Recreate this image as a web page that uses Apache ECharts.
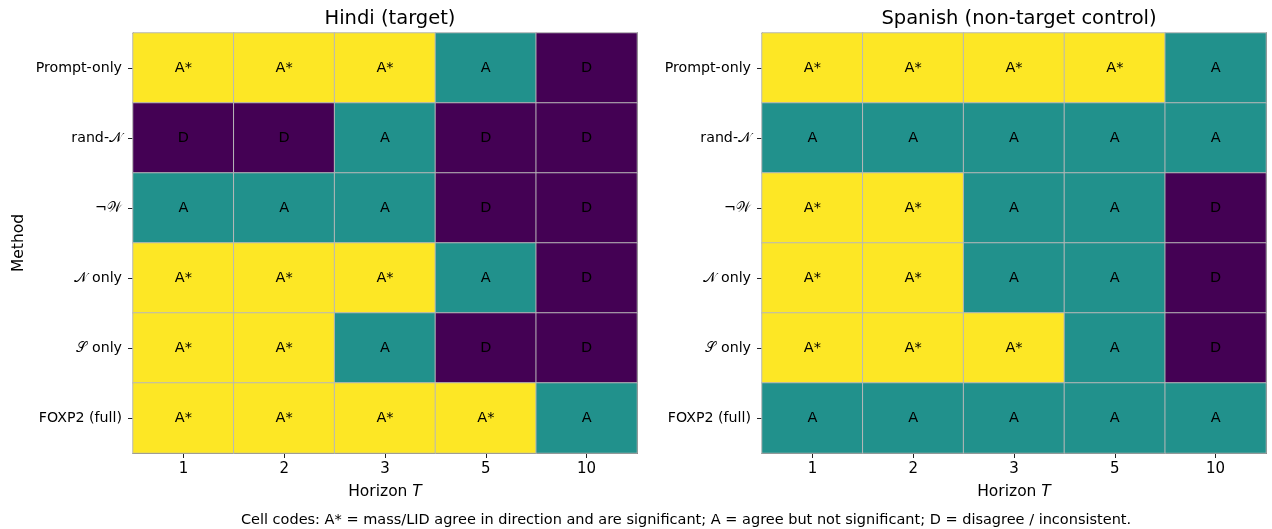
<!DOCTYPE html>
<html><head><meta charset="utf-8">
<script src="https://cdn.jsdelivr.net/npm/echarts@6/dist/echarts.min.js"></script>
<style>html,body{margin:0;padding:0;background:#fff}#c{width:1272px;height:529px}</style>
</head><body><div id="c"></div>
<script>
const horizons = ['1', '2', '3', '5', '10'];
const methods = ['Prompt-only', 'rand-𝒩', '¬𝒲', '𝒩 only', '𝒮 only', 'FOXP2 (full)'];
const codeValue = { 'D': 0, 'A': 1, 'A*': 2 };
const hindiCodes = [
  ['A*', 'A*', 'A*', 'A', 'D'],
  ['D', 'D', 'A', 'D', 'D'],
  ['A', 'A', 'A', 'D', 'D'],
  ['A*', 'A*', 'A*', 'A', 'D'],
  ['A*', 'A*', 'A', 'D', 'D'],
  ['A*', 'A*', 'A*', 'A*', 'A']
];
const spanishCodes = [
  ['A*', 'A*', 'A*', 'A*', 'A'],
  ['A', 'A', 'A', 'A', 'A'],
  ['A*', 'A*', 'A', 'A', 'D'],
  ['A*', 'A*', 'A', 'A', 'D'],
  ['A*', 'A*', 'A*', 'A', 'D'],
  ['A', 'A', 'A', 'A', 'A']
];
const panelTitles = ['Hindi (target)', 'Spanish (non-target control)'];
const footer = 'Cell codes: A* = mass/LID agree in direction and are significant; A = agree but not significant; D = disagree / inconsistent.';

const FONT = 'DejaVu Sans';
function toData(codes) {
  const out = [];
  codes.forEach((row, r) => row.forEach((c, k) => out.push({ value: [k, r, codeValue[c]], code: c })));
  return out;
}
const grids = [
  { left: 133, right: 635, top: 33, bottom: 76 },
  { left: 762, right: 6, top: 33, bottom: 76 }
];
const xAxes = [], yAxes = [], series = [];
[0, 1].forEach(i => {
  xAxes.push({
    type: 'category', gridIndex: i, data: horizons, position: 'bottom',
    axisLine: { show: true, lineStyle: { color: '#222', width: 1 } },
    axisTick: { show: true, alignWithLabel: true, length: 5, lineStyle: { color: '#222' } },
    axisLabel: { color: '#000', fontSize: 15, fontFamily: FONT, margin: 9 },
    splitLine: { show: false },
    name: '{n|Horizon }{t|T}', nameLocation: 'middle', nameGap: 31,
    nameTextStyle: { rich: { n: { fontSize: 15.5, fontFamily: FONT, color: '#000' }, t: { fontSize: 15.5, fontFamily: FONT, fontStyle: 'italic', color: '#000' } } }
  });
  xAxes.push({
    type: 'category', gridIndex: i, data: horizons, position: 'top',
    axisLine: { show: true, lineStyle: { color: '#222', width: 1 } },
    axisTick: { show: false }, axisLabel: { show: false }, splitLine: { show: false }
  });
  yAxes.push({
    type: 'category', gridIndex: i, data: methods, inverse: true, position: 'left',
    axisLine: { show: true, lineStyle: { color: '#222', width: 1 } },
    axisTick: { show: true, alignWithLabel: true, length: 5, lineStyle: { color: '#222' } },
    axisLabel: { color: '#000', fontSize: 14.2, fontFamily: FONT, margin: 11 },
    splitLine: { show: false },
    name: i === 0 ? 'Method' : '', nameLocation: 'middle', nameGap: 106, nameRotate: 90,
    nameTextStyle: { fontSize: 15.5, fontFamily: FONT, color: '#000' }
  });
  yAxes.push({
    type: 'category', gridIndex: i, data: methods, inverse: true, position: 'right',
    axisLine: { show: true, lineStyle: { color: '#222', width: 1 } },
    axisTick: { show: false }, axisLabel: { show: false }, splitLine: { show: false }
  });
  series.push({
    type: 'heatmap', xAxisIndex: i * 2, yAxisIndex: i * 2,
    data: toData(i === 0 ? hindiCodes : spanishCodes),
    itemStyle: { borderColor: '#b8b8b8', borderWidth: 1 },
    label: { show: true, formatter: p => p.data.code, color: '#000', fontSize: 14.5, fontFamily: FONT },
    emphasis: { disabled: true }
  });
});
const chart = echarts.init(document.getElementById('c'), null, { renderer: 'canvas' });
chart.setOption({
  animation: false,
  backgroundColor: '#fff',
  title: [
    { text: panelTitles[0], left: 385, top: 4, textAlign: 'center', textStyle: { fontSize: 19.5, fontWeight: 'normal', fontFamily: FONT, color: '#000' } },
    { text: panelTitles[1], left: 1014, top: 4, textAlign: 'center', textStyle: { fontSize: 19.5, fontWeight: 'normal', fontFamily: FONT, color: '#000' } },
    { text: footer, left: 681, top: 508, textAlign: 'center', textStyle: { fontSize: 14.5, fontWeight: 'normal', fontFamily: FONT, color: '#000' } }
  ],
  grid: grids,
  xAxis: xAxes,
  yAxis: yAxes,
  visualMap: {
    show: false, type: 'piecewise', dimension: 2, seriesIndex: [0, 1],
    pieces: [
      { value: 0, color: '#440154' },
      { value: 1, color: '#21918c' },
      { value: 2, color: '#fde725' }
    ]
  },
  series: series
});
</script></body></html>
